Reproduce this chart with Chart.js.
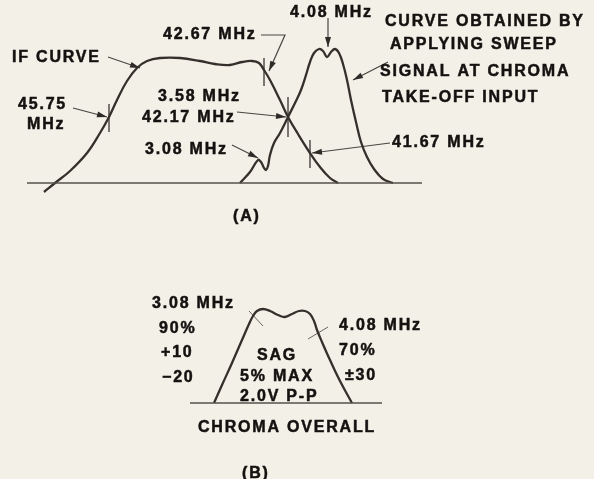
<!DOCTYPE html>
<html>
<head>
<meta charset="utf-8">
<script src="https://cdn.jsdelivr.net/npm/chart.js@4/dist/chart.umd.min.js"></script>
<style>
  html, body { margin: 0; padding: 0; background: #f3f0e8; }
  #wrap { width: 594px; height: 479px; position: relative; }
</style>
</head>
<body>
<div id="wrap"><canvas id="c"></canvas></div>
<script>
// ---- Diagram (A): IF curve and chroma take-off curve (diagram units, y grows downward) ----
const ifCurveX = [44, 55, 70, 87, 100, 109, 117, 127, 137, 147, 160, 180, 200, 215, 230, 242, 252, 259, 264, 270, 280, 288, 298, 310, 320, 330, 338];
const ifCurveY = [192, 183, 171, 153, 133, 117, 100, 81, 68, 61, 58, 58, 61, 64, 65, 62, 61, 63, 70, 80, 100, 117, 134, 153, 167, 178, 183];

const chromaX = [240, 250, 258, 261, 264, 266, 268, 270, 274, 280, 288, 295, 301, 306, 310, 314, 319, 323, 327, 331, 335, 339, 343, 347, 351, 356, 361, 367, 374, 383, 393];
const chromaY = [183, 172, 160, 162, 168, 170, 166, 155, 143, 133, 117, 103, 90, 75, 62, 53, 49, 51, 57, 52, 49, 53, 64, 80, 100, 122, 142, 157, 169, 179, 183];

const baselineAX = [27, 422];
const baselineAY = [183, 183];

// ---- Diagram (B): chroma overall response ----
const overallX = [214, 222, 232, 242, 249, 253, 257, 263, 270, 278, 285, 292, 299, 305, 310, 314, 317, 322, 330, 340, 352];
const overallY = [403, 385, 363, 340, 324, 316, 311, 309, 311, 315, 317, 314, 311, 311, 314, 321, 330, 342, 360, 381, 403];

const baselineBX = [190, 382];
const baselineBY = [403, 403];

// ---- Marker ticks across curves: [x1, y1, x2, y2] ----
const tickSegments = [
  [109, 104, 109, 132],   // 45.75 MHz
  [264, 58, 264, 86],     // 42.67 MHz
  [288, 97, 288, 137],    // 3.58 / 42.17 MHz crossing
  [310, 140, 310, 168],   // 41.67 MHz
  [249, 311, 263, 326],   // 3.08 MHz (B)
  [308, 339, 328, 327]    // 4.08 MHz (B)
];

// ---- Leader arrows: polylines, the last point is the arrow tip ----
const arrowPathsX = [
  [108, 140],
  [73, 107],
  [261, 285, 269],
  [328, 328],
  [388, 353],
  [237, 286],
  [232, 258],
  [390, 312]
];
const arrowPathsY = [
  [57, 68],
  [108, 117],
  [35, 35, 71],
  [18, 47],
  [62, 80],
  [112, 117],
  [145, 158],
  [143, 153]
];

// ---- Text labels (left x, vertical centre y) ----
const labelTexts = ['42.67 MHz', '4.08 MHz', 'CURVE OBTAINED BY', 'APPLYING SWEEP', 'SIGNAL AT CHROMA', 'TAKE-OFF INPUT',
  'IF CURVE', '45.75', 'MHz', '3.58 MHz', '42.17 MHz', '3.08 MHz', '41.67 MHz', '(A)',
  '3.08 MHz', '90%', '+10', '\u221220', 'SAG', '5% MAX', '2.0V P-P', '4.08 MHz', '70%', '\u00B130', 'CHROMA OVERALL', '(B)'];
const labelX = [163, 290, 385, 390, 380, 382, 12, 18, 27, 158, 142, 145, 392, 233,
  152, 159, 161, 162, 257, 240, 240, 339, 339, 345, 198, 242];
const labelY = [32.5, 11, 20, 43, 70, 96, 56, 102.5, 122.5, 95, 115.5, 147.5, 140.5, 215,
  302, 326.5, 351, 376, 353.5, 375, 395, 323.5, 349, 374, 425.5, 472];

// ---- build datasets ----
const curveColor = '#35302c';
const thinColor = '#4a4541';
function pts(xs, ys) { return xs.map((x, i) => ({ x: x, y: ys[i] })); }

const datasets = [];
datasets.push({ data: pts(baselineAX, baselineAY), borderColor: '#55504b', borderWidth: 1.3, tension: 0 });
datasets.push({ data: pts(baselineBX, baselineBY), borderColor: '#55504b', borderWidth: 1.3, tension: 0 });
datasets.push({ data: pts(ifCurveX, ifCurveY), borderColor: curveColor, borderWidth: 2.3, tension: 0.4 });
datasets.push({ data: pts(chromaX, chromaY), borderColor: curveColor, borderWidth: 2.3, tension: 0.4 });
datasets.push({ data: pts(overallX, overallY), borderColor: curveColor, borderWidth: 2.3, tension: 0.4 });
tickSegments.forEach(s => {
  datasets.push({ data: [{ x: s[0], y: s[1] }, { x: s[2], y: s[3] }], borderColor: '#6a6560', borderWidth: 1, tension: 0 });
});
arrowPathsX.forEach((xs, i) => {
  datasets.push({ data: pts(xs, arrowPathsY[i]), borderColor: thinColor, borderWidth: 1.2, tension: 0, isArrow: true });
});
datasets.forEach(d => { d.showLine = true; d.pointRadius = 0; d.fill = false; });

const overlayPlugin = {
  id: 'overlay',
  afterDatasetsDraw(chart) {
    const ctx = chart.ctx;
    const xs = chart.scales.x, ys = chart.scales.y;
    // arrowheads
    chart.data.datasets.forEach(d => {
      if (!d.isArrow) return;
      const n = d.data.length;
      const a = d.data[n - 2], b = d.data[n - 1];
      const x1 = xs.getPixelForValue(a.x), y1 = ys.getPixelForValue(a.y);
      const x2 = xs.getPixelForValue(b.x), y2 = ys.getPixelForValue(b.y);
      const ang = Math.atan2(y2 - y1, x2 - x1);
      const len = 10, half = 3;
      ctx.save();
      ctx.fillStyle = '#2e2a27';
      ctx.translate(x2, y2);
      ctx.rotate(ang);
      ctx.beginPath();
      ctx.moveTo(0, 0);
      ctx.lineTo(-len, -half);
      ctx.lineTo(-len, half);
      ctx.closePath();
      ctx.fill();
      ctx.restore();
    });
    // labels
    ctx.save();
    ctx.fillStyle = '#141210';
    ctx.strokeStyle = '#141210';
    ctx.lineWidth = 0.5;
    ctx.font = 'bold 16px "Liberation Sans", Arial, sans-serif';
    ctx.letterSpacing = '1.8px';
    ctx.textAlign = 'left';
    ctx.textBaseline = 'alphabetic';
    labelTexts.forEach((t, i) => {
      const px = xs.getPixelForValue(labelX[i]);
      const py = ys.getPixelForValue(labelY[i]) + 6;
      ctx.fillText(t, px, py);
      ctx.strokeText(t, px, py);
    });
    ctx.restore();
  }
};

new Chart(document.getElementById('c'), {
  type: 'scatter',
  data: { datasets: datasets },
  options: {
    responsive: true,
    maintainAspectRatio: false,
    animation: false,
    layout: { padding: 0 },
    plugins: { legend: { display: false }, tooltip: { enabled: false } },
    scales: {
      x: { type: 'linear', min: 0, max: 594, display: false },
      y: { type: 'linear', min: 0, max: 479, reverse: true, display: false }
    }
  },
  plugins: [overlayPlugin]
});
</script>
</body>
</html>
